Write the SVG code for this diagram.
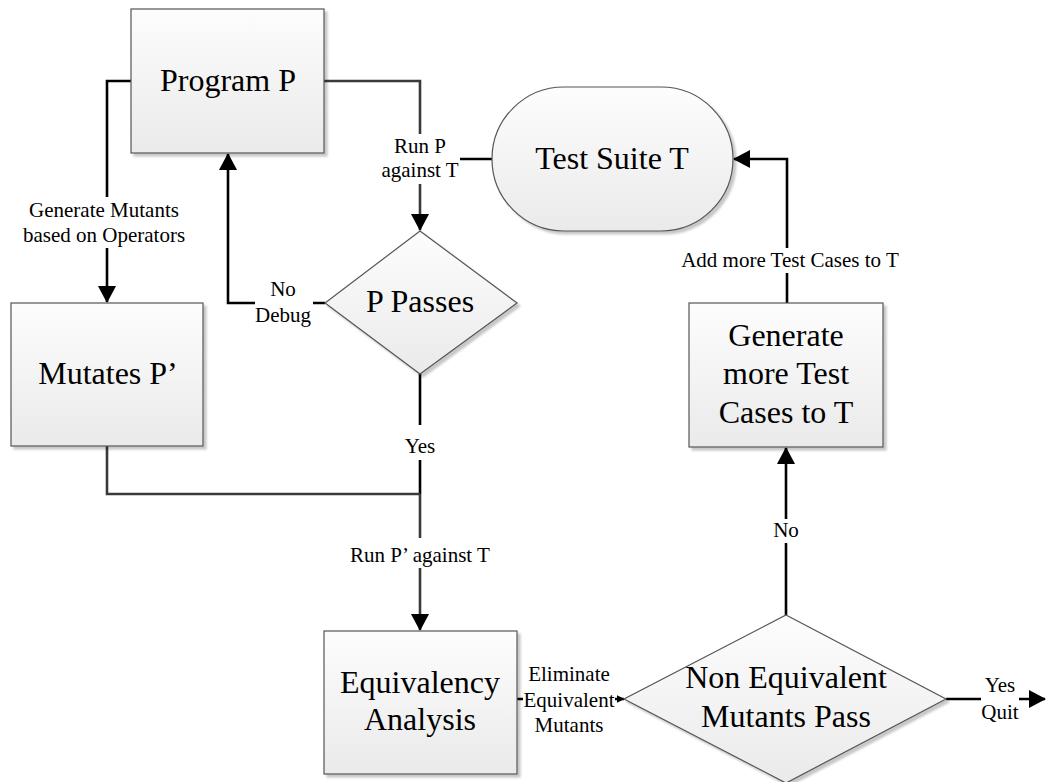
<svg xmlns="http://www.w3.org/2000/svg" width="1047" height="782" viewBox="0 0 1047 782">
  <defs>
    <linearGradient id="fillGrad" x1="0" y1="0" x2="0" y2="1">
      <stop offset="0" stop-color="#fdfdfd"/>
      <stop offset="1" stop-color="#eaeaea"/>
    </linearGradient>
    <filter id="shadow" x="-10%" y="-10%" width="130%" height="130%">
      <feDropShadow dx="3" dy="3" stdDeviation="1.2" flood-color="#000" flood-opacity="0.22"/>
    </filter>
    <marker id="arrow" viewBox="0 0 17 18" refX="16" refY="9" markerWidth="17" markerHeight="18" markerUnits="userSpaceOnUse" orient="auto">
      <path d="M0,0 L17,9 L0,18 z" fill="#000"/>
    </marker>
    <marker id="arrowSmall" viewBox="0 0 8 8" refX="7.5" refY="4" markerWidth="8" markerHeight="8" markerUnits="userSpaceOnUse" orient="auto">
      <path d="M0,0 L8,4 L0,8 z" fill="#000"/>
    </marker>
  </defs>
  <style>
    .shape { fill: url(#fillGrad); stroke: #555; stroke-width: 1.2; filter: url(#shadow); }
    .node { font-family: "Liberation Serif", "Times New Roman", serif; font-size: 32px; fill: #000; text-anchor: middle; }
    .lbl { font-family: "Liberation Serif", "Times New Roman", serif; font-size: 21px; fill: #000; text-anchor: middle; }
    .wire { fill: none; stroke: #000; stroke-width: 2.6; }
    .wire.gray { stroke: #3a3a3a; }
    .gap { fill: #fff; stroke: none; }
  </style>

  <rect width="1047" height="782" fill="#fff"/>

  <!-- connectors -->
  <g id="connectors">
    <path class="wire" d="M131,81 H107 V302" marker-end="url(#arrow)"/>
    <path class="wire gray" d="M324,81 H420 V230" marker-end="url(#arrow)"/>
    <path class="wire" d="M492,159 H420"/>
    <path class="wire" d="M325,303 H228 V154" marker-end="url(#arrow)"/>
    <path class="wire" d="M420,374 V494"/>
    <path class="wire gray" d="M107,446 V494 H420"/>
    <path class="wire gray" d="M420,494 V630" marker-end="url(#arrow)"/>
    <path class="wire" d="M787,303 V159 H734" marker-end="url(#arrow)"/>
    <path class="wire" d="M786,615 V448" marker-end="url(#arrow)"/>
    <path class="wire" d="M517,699 H624" marker-end="url(#arrowSmall)"/>
    <path class="wire" d="M946,699 H1045" marker-end="url(#arrow)"/>

    <!-- connector labels -->
    <g id="lbl-generate-mutants">
      <rect class="gap" x="22" y="197" width="166" height="51"/>
      <text class="lbl" x="104" y="217">Generate Mutants</text>
      <text class="lbl" x="104" y="242">based on Operators</text>
    </g>
    <g id="lbl-run-p">
      <rect class="gap" x="380" y="134" width="80" height="50"/>
      <text class="lbl" x="420" y="153">Run P</text>
      <text class="lbl" x="420" y="177">against T</text>
    </g>
    <g id="lbl-no-debug">
      <rect class="gap" x="255" y="282" width="58" height="44"/>
      <text class="lbl" x="283" y="296">No</text>
      <text class="lbl" x="283" y="322">Debug</text>
    </g>
    <g id="lbl-yes">
      <rect class="gap" x="404" y="425" width="34" height="35"/>
      <text class="lbl" x="420" y="453">Yes</text>
    </g>
    <g id="lbl-run-p-prime">
      <rect class="gap" x="350" y="538" width="140" height="30"/>
      <text class="lbl" x="420" y="562">Run P’ against T</text>
    </g>
    <g id="lbl-add-more">
      <rect class="gap" x="676" y="248" width="228" height="25"/>
      <text class="lbl" x="790" y="267">Add more Test Cases to T</text>
    </g>
    <g id="lbl-no">
      <rect class="gap" x="772" y="519" width="28" height="24"/>
      <text class="lbl" x="786" y="537">No</text>
    </g>
    <g id="lbl-eliminate">
      <rect class="gap" x="523" y="662" width="92" height="76"/>
      <text class="lbl" x="569" y="681">Eliminate</text>
      <text class="lbl" x="569" y="707">Equivalent</text>
      <text class="lbl" x="569" y="732">Mutants</text>
    </g>
    <g id="lbl-yes-quit">
      <rect class="gap" x="981" y="670" width="38" height="54"/>
      <text class="lbl" x="1000" y="692">Yes</text>
      <text class="lbl" x="1000" y="719">Quit</text>
    </g>
  </g>

  <!-- nodes -->
  <g id="program-p">
    <rect class="shape" x="131" y="9" width="193" height="144"/>
    <text class="node" x="228" y="91">Program P</text>
  </g>

  <g id="test-suite-t">
    <rect class="shape" x="492" y="87" width="241" height="144" rx="72" ry="72"/>
    <text class="node" x="612" y="169">Test Suite T</text>
  </g>

  <g id="p-passes">
    <polygon class="shape" points="420,231 517,303 420,374 325,303"/>
    <text class="node" x="420" y="312">P Passes</text>
  </g>

  <g id="mutates-p-prime">
    <rect class="shape" x="11" y="303" width="192" height="143"/>
    <text class="node" x="108" y="384">Mutates P’</text>
  </g>

  <g id="generate-more">
    <rect class="shape" x="689" y="303" width="194" height="144"/>
    <text class="node" x="786" y="346">Generate</text>
    <text class="node" x="786" y="384">more Test</text>
    <text class="node" x="786" y="423">Cases to T</text>
  </g>

  <g id="equivalency-analysis">
    <rect class="shape" x="324" y="631" width="193" height="143"/>
    <text class="node" x="420" y="693">Equivalency</text>
    <text class="node" x="420" y="730">Analysis</text>
  </g>

  <g id="non-equivalent-pass">
    <polygon class="shape" points="786,615 946,699 786,783 624,699"/>
    <text class="node" x="786" y="688">Non Equivalent</text>
    <text class="node" x="786" y="727">Mutants Pass</text>
  </g>
</svg>
